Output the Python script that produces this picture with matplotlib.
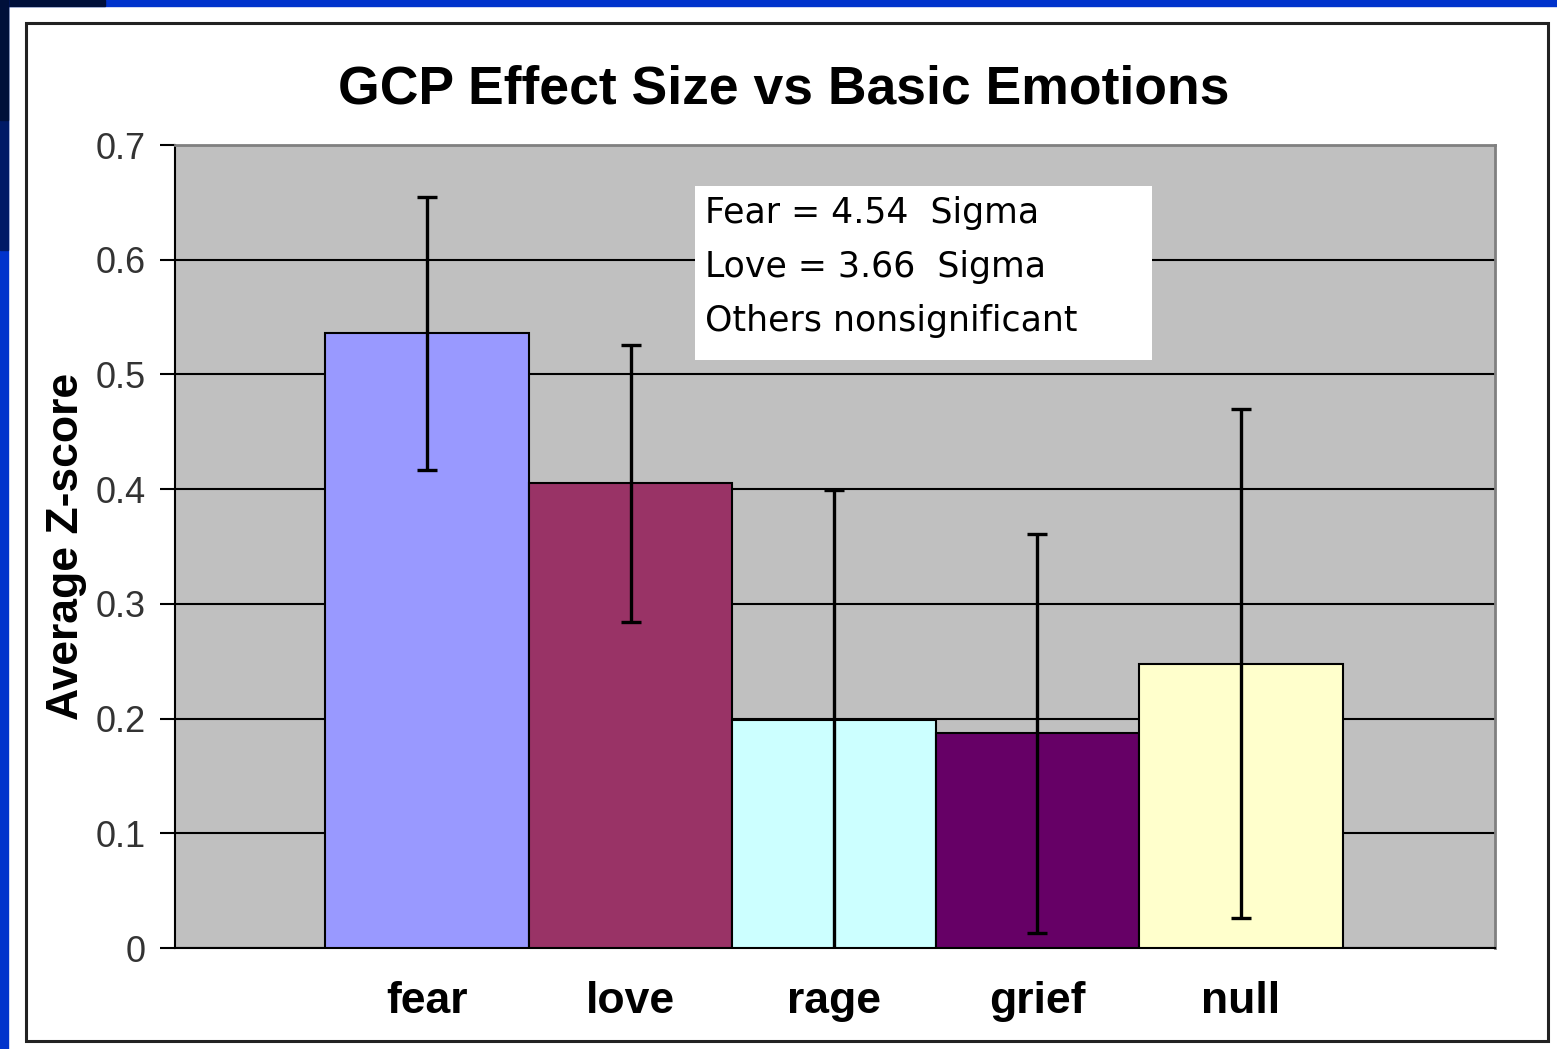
import matplotlib.pyplot as plt
from matplotlib.patches import Rectangle

emotions = ['fear', 'love', 'rage', 'grief', 'null']
avg_z = [0.536, 0.405, 0.199, 0.187, 0.248]
err = [0.119, 0.121, 0.200, 0.174, 0.222]
bar_colors = ['#9999FF', '#993366', '#CCFFFF', '#660066', '#FFFFCC']
note_lines = ['Fear = 4.54  Sigma', 'Love = 3.66  Sigma', 'Others nonsignificant']

W, H = 1557, 1049
fig = plt.figure(figsize=(W / 100, H / 100), dpi=100)
fig.patch.set_facecolor('white')

# slide border (blue strips, dark top-left corner) and chart frame
fig.patches.append(Rectangle((0, 1 - 6 / H), 1, 6 / H, transform=fig.transFigure,
                             color='#0033CC', zorder=0))
fig.patches.append(Rectangle((0, 1 - 6 / H), 105 / W, 6 / H, transform=fig.transFigure,
                             color='#00103A', zorder=0))
fig.patches.append(Rectangle((0, 0), 8 / W, 1, transform=fig.transFigure,
                             color='#0033CC', zorder=0))
fig.patches.append(Rectangle((0, 1 - 250 / H), 8 / W, 250 / H, transform=fig.transFigure,
                             color='#001A66', zorder=0))
fig.patches.append(Rectangle((0, 1 - 120 / H), 8 / W, 120 / H, transform=fig.transFigure,
                             color='#00103A', zorder=0))
fig.patches.append(Rectangle((26 / W, 1 - 1041 / H), (1548 - 26) / W, (1041 - 23) / H,
                             transform=fig.transFigure, fill=False, edgecolor='#222222',
                             linewidth=2.2, zorder=1))

ax = fig.add_axes([175 / W, 1 - 948 / H, (1495 - 175) / W, (948 - 145) / H])
ax.set_facecolor('#C0C0C0')

x = list(range(len(emotions)))
ax.bar(x, avg_z, width=1.0, color=bar_colors, edgecolor='black', linewidth=1.5, zorder=3)
ax.errorbar(x, avg_z, yerr=err, fmt='none', ecolor='black', elinewidth=2.4,
            capsize=7, capthick=2.4, zorder=4)

ax.set_xlim(-1.239, 5.249)
ax.set_ylim(0, 0.7)
ax.set_yticks([0, 0.1, 0.2, 0.3, 0.4, 0.5, 0.6, 0.7])
ax.set_yticklabels(['0', '0.1', '0.2', '0.3', '0.4', '0.5', '0.6', '0.7'],
                   fontsize=26, color='#333333', family='Liberation Sans')
ax.tick_params(axis='y', direction='out', length=11, width=1.5, pad=10)
ax.set_xticks(x)
ax.set_xticklabels(emotions, fontsize=32, fontweight='bold', family='Liberation Sans')
ax.tick_params(axis='x', length=0, pad=24)

ax.yaxis.grid(True, color='black', linewidth=1.5, zorder=1)
ax.set_axisbelow(True)
for side in ['top', 'right']:
    ax.spines[side].set_color('#808080')
    ax.spines[side].set_linewidth(2)
for side in ['left', 'bottom']:
    ax.spines[side].set_color('black')
    ax.spines[side].set_linewidth(1.5)

ax.set_ylabel('Average Z-score', fontsize=32, fontweight='bold', family='Liberation Sans')
ax.yaxis.set_label_coords(-0.067, 0.5)

fig.text((338 + 1230) / 2 / W, 1 - 90 / H, 'GCP Effect Size vs Basic Emotions',
         ha='center', va='center', fontsize=38.5, fontweight='bold', family='Liberation Sans')

# annotation box
ax.add_patch(Rectangle((0.394, 0.732), 0.346, 0.217, transform=ax.transAxes,
                       facecolor='white', edgecolor='none', zorder=5))
for i, line in enumerate(note_lines):
    ax.text(0.4015, 0.915 - i * 0.067, line, transform=ax.transAxes, ha='left', va='center',
            fontsize=25, family='DejaVu Sans', zorder=6)

fig.savefig('out.png', dpi=100)
